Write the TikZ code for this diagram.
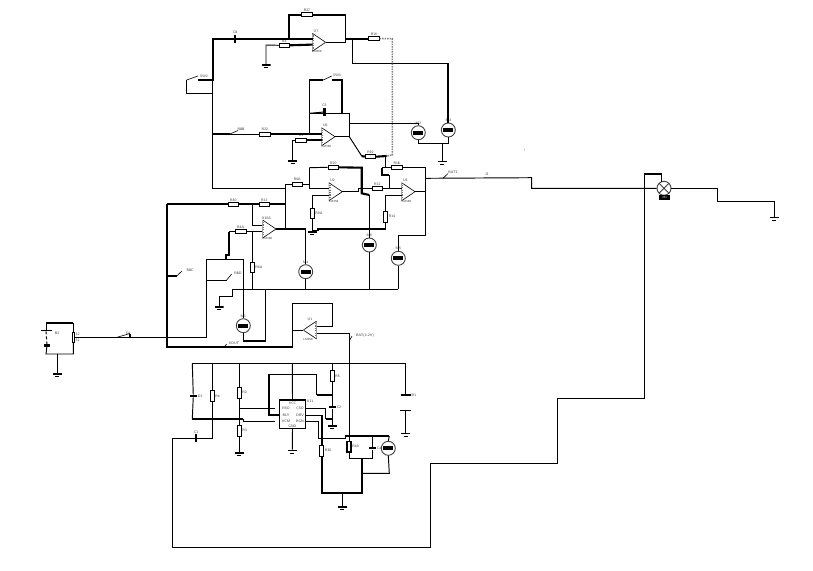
\documentclass[tikz,border=0pt]{standalone}
\tikzset{
    wire/.style={line width=0.95pt},
    bus/.style={line width=2.1pt},
    blade/.style={line width=0.6pt},
    lab/.style={font=\sffamily\fontsize{3.6}{4}\selectfont,inner sep=0.6pt,text=black!80},
    res/.style={draw,fill=white,line width=0.8pt,minimum width=10.5pt,minimum height=3.8pt,inner sep=0pt},
    vres/.style={draw,fill=white,line width=0.8pt,minimum width=3.8pt,minimum height=10.5pt,inner sep=0pt},
    capbar/.style={fill=black,minimum width=10pt,minimum height=2.2pt,inner sep=0pt},
    plate/.style={fill=black,minimum width=11pt,minimum height=1pt,inner sep=0pt},
    vcap/.style={fill=black,minimum width=2.5pt,minimum height=8pt,inner sep=0pt},
    opamp/.style={minimum width=13.4pt,minimum height=18pt,inner sep=0pt,outer sep=0pt,anchor=east,
        label={[lab,xshift=-3pt]above:#1},label={[lab,xshift=-2pt,yshift=1.5pt,font=\sffamily\fontsize{3}{3}\selectfont]below:LM358},path picture={
        \filldraw [fill=white,line width=0.6pt] (path picture bounding box.north west) -- (path picture bounding box.east) -- (path picture bounding box.south west) -- cycle;
        \draw [black!55,line width=1.4pt,dash pattern=on 1.2pt off 1.2pt] (path picture bounding box.north west) ++(1pt,-2pt) -- ++(0pt,-14pt);}},
    opampl/.style={minimum width=13.4pt,minimum height=18pt,inner sep=0pt,outer sep=0pt,anchor=west,
        label={[lab]above:#1},label={[lab,xshift=-2pt,yshift=1.5pt,font=\sffamily\fontsize{3}{3}\selectfont]below:LM358},path picture={
        \filldraw [fill=white,line width=0.6pt] (path picture bounding box.north east) -- (path picture bounding box.west) -- (path picture bounding box.south east) -- cycle;
        \draw [black!55,line width=1.4pt,dash pattern=on 1.2pt off 1.2pt] (path picture bounding box.north east) ++(-1pt,-2pt) -- ++(0pt,-14pt);}},
    meter/.style={circle,draw=black!75,fill=white,line width=0.9pt,minimum size=14pt,inner sep=0pt,path picture={\fill [black] (path picture bounding box.center) ++(-5pt,-2pt) rectangle ++(10pt,4pt);}},
    gnd/.style={anchor=north,minimum width=9pt,minimum height=4.2pt,inner sep=0pt,path picture={
        \fill (path picture bounding box.north west) rectangle ++(9pt,-1.5pt);
        \fill (path picture bounding box.south west) ++(2.5pt,0pt) rectangle ++(4pt,1.1pt);}},
}
\begin{document}
\begin{tikzpicture}[x=1pt,y=-1pt]
            \useasboundingbox (0,0) rectangle (813,570);
            \foreach \n/\x/\y in {
                sa/186.7/80, sb/198/76, sc/198/80, sd/212.7/80, se/186.7/93.3, sf/212.7/93.3, sg/212.7/38.7,
                ta/288.7/38.7, tb/288.7/14.7, tc/345.7/14.7, td/345.7/42.3, te/345.7/38.7, tf/352.7/38.7, tg/352.7/63.3, th/448.3/63.3,
                ti/312.7/38.7, tj/312.7/44.6, tk/266/45, tl/392.3/38.7, tm/392.3/155,
                ma/212.7/134, mb/230/134, mc/238/130.5, md/321.7/134, me/321.7/140, mf/292.7/140,
                mg/309.3/134, mh/309.3/113.3, mi/349.3/113.3, mj/349.3/136.7, mk/309.3/80, ml/323.3/80, mm/331.7/76, mn/331.7/80, mo/342/80, mp/342/113.3,
                mq/349.3/123.3, mr/418.3/123.3, ms/418.3/143.3, mt/448.3/143.3, mu/442.3/143.3, mv/361.7/156, mw/386.7/156, mx/385.7/156, my/385.7/167.7,
                na/382.3/167.7, nb/382.3/175, nc/389/175, nd/389/188.3, ne/402.3/188.3, nf/425.7/167.7, ng/425.7/235, nh/398.3/235, ni/398.3/289.3,
                nj/425.7/191.7, nk/358.3/191.7, nl/358.3/188.3, nm/309.3/167.7, nn/361.7/167.7, no/361.7/193.3, np/369.3/195, nq/369.3/289.3,
                nr/212.7/188.3, ns/285.7/188.3, nt/285.7/184, nu/309.3/184, nv/309.3/188.3, nw/329/188.3, nx/312.3/195, ny/329/195, nz/312.3/230.7,
                oa/318.3/230.7, ob/318.3/229, oc/385.7/229, od/385.7/195, oe/402.3/195, of/285.7/229,
                pa/425.7/178.3, pb/531.7/177.7, pc/531.7/188.3, pd/717.3/188.3, pe/717.3/201.7, pf/774.3/201.7, pg/448/173.5, ph/443/178.3,
                qa/644.3/174.3, qb/661.7/174.3, qc/661.7/181.5, qd/644.3/398, qe/557/398, qf/557/463, qg/430/463, qh/430/547, qi/172.7/547, qj/172.7/438.3, qk/212.3/438.3,
                ra/166.7/204.3, rb/285.7/204.3, rc/252.3/204.3, rd/252.3/225, re/261.7/225, rf/305.7/229, rg/305.7/289.3, rh/166.7/346.7, ri/292.7/346.7, rj/292.7/303.3, rk/332.7/303.3, rl/332.7/326, rm/316.7/326, rn/292.7/330,
                ua/166.7/276, ub/176.7/276, uc/182/271, ud/223.3/348, ue/226.7/344,
                va/229/231.7, vb/261.7/231.7, vc/229/255, vd/226/255, ve/226/259, vf/206.7/259, vg/243.3/259, vh/243.3/340.7, vi/265.7/340.7, vj/265.7/289.3,
                vk/206.7/337.3, vl/206.7/280, vm/226.7/280, vn/231.7/274, vo/252.3/231.7, vp/252.3/289.3, vq/219/296, vr/232.7/296, vs/232.7/289.3,
                wa/316.7/333.3, wb/349.3/333.3, wc/349.3/436, wd/352/336, we/349.3/341,
                xa/192.3/363.3, xb/405.7/363.3, xc/192.3/419, xd/243.3/419, xe/243.3/421, xf/275/421, xg/212.3/363.3, xh/239.3/363.3, xi/239.3/408.3, xj/275/408.3,
                ya/269/415, yb/279.3/415, yc/269/374.3, yd/316.7/374.3, ye/316.7/395, yf/332.3/395, yg/292.3/363.3, yh/332.3/363.3,
                yi/305.7/408.3, yj/325.7/408.3, yk/325.7/419, yl/332.3/419, ym/305.7/415, yn/321.7/415, yo/305.7/421, yp/318.3/421, yq/318.3/438.3, yr/345/438.3, ys/345/436, yt/389.3/436,
                za/321.7/493.3, zb/362.3/493.3, zc/362.3/458.3, zd/342.3/493.3, ze/349/436, zf/349/458.3, zg/372.3/458.3, zh/372.3/436, zi/389.3/473.3, zj/362.3/473.3,
                ba/46/323.3, bb/73.3/323.3, bc/73.3/331.5, bd/73.3/354, be/46/354, bf/57.3/354, bg/117/337.3, bh/130/333.5, bi/130/337.3, bj/166.7/337.3
            }{\coordinate (\n) at (\x,\y);}
            \node [opamp=U7] (u7) at (325.7,42.3) {};
            \node [opamp=U6] (u6) at (335,136.7) {};
            \node [opamp=U2] (u2) at (342.3,191.7) {};
            \node [opamp=U3] (u3) at (415,191.7) {};
            \node [opamp=U10A] (u10) at (276,229) {};
            \node [opampl=U1] (u1) at (303.3,330) {};
            \node [res,label={[lab]above:R27}] (r27) at (307,14.7) {};
            \node [res,label={[lab]above:R16}] (r16) at (374,38.7) {};
            \node [res,label={[lab]above:R3}] (r15) at (284.3,45.3) {};
            \node [res,label={[lab]above:R22}] (r22) at (264.7,134) {};
            \node [res,label={[lab]above:R1}] (r23) at (301,140) {};
            \node [res,label={[lab]above:R19}] (r17) at (370.5,156.7) {};
            \node [res,label={[lab]above:R18}] (r18) at (396.7,167.7) {};
            \node [res,label={[lab]above:R12}] (r12) at (377.3,188.3) {};
            \node [res,label={[lab]above:R10}] (r10) at (333.3,167.3) {};
            \node [res,label={[lab]above:R9A}] (r9) at (297.3,184) {};
            \node [res,label={[lab]above:R30}] (r5) at (233.3,204.3) {};
            \node [res,label={[lab]above:R12}] (r6) at (264.3,204.3) {};
            \node [res,label={[lab]above:R4A}] (r7) at (240.7,231.7) {};
            \node [vres,label={[lab]right:R9A}] (r11) at (312.3,213.3) {};
            \node [vres,label={[lab]right:R14}] (r14) at (385.7,216.7) {};
            \node [vres,label={[lab]right:R6A}] (r8) at (252.3,267.3) {};
            \node [meter,label={[lab]above:M2}] (m1) at (418.3,132.7) {};
            \node [meter,label={[lab]above:M3}] (m2) at (448.3,130) {};
            \node [meter,label={[lab]above:M5}] (m3) at (398.3,258.3) {};
            \node [meter,label={[lab]above:M6}] (m4) at (369.3,245) {};
            \node [meter,label={[lab]above:M4}] (m6) at (305.7,271.7) {};
            \node [meter,label={[lab]above:M1}] (m7) at (243.3,325.7) {};
            \node [meter] (m8) at (388.3,448.3) {};
            \node [circle,draw=black!75,fill=white,line width=0.9pt,minimum size=14pt,inner sep=0pt,path picture={\draw (path picture bounding box.north west) -- (path picture bounding box.south east) (path picture bounding box.north east) -- (path picture bounding box.south west);}] (m5) at (664,188.3) {};
            \node [fill=black,minimum width=10.5pt,minimum height=4.5pt,inner sep=0pt,text=white,font=\sffamily\fontsize{3}{3}\selectfont] (m5bar) at (664.7,197.5) {M1};
            \node [vcap,label={[lab]above:C8}] (c8) at (235,38.7) {};
            \node [vcap,label={[lab]above:C5}] (c5) at (324.3,112) {};
            \node [lab] (sw1lab) at (204,76) {SW2};
            \node [lab] (sw2lab) at (337,75.5) {SW3};
            \node [lab] (sw3lab) at (241,129.5) {R8B};
            \node [lab] (sw4lab) at (453,172.5) {BAT1};
            \node [lab] (sw5lab) at (487,174.3) {J1};
            \node [lab] (dotlab) at (524.5,150.5) {i};
            \node [lab] (sw6lab) at (190,270.5) {R8C};
            \node [lab] (sw7lab) at (238,273) {R8D};
            \node [lab] (sw8lab) at (234,343.5) {VOUT};
            \node [lab] (sw9lab) at (365,336) {BAT(4.2V)};
            \node [gnd] (g1) at (266,64) {};
            \node [gnd] (g2) at (292.7,160) {};
            \node [gnd] (g3) at (442.3,160.5) {};
            \node [gnd] (g4) at (312.3,231) {};
            \node [gnd] (g5) at (219,306) {};
            \node [gnd] (g6) at (57.3,373) {};
            \node [gnd] (g7) at (774.3,216.5) {};
            \node [gnd] (g8) at (239.3,452) {};
            \node [gnd] (g9) at (292.3,449.5) {};
            \node [gnd] (g10) at (332.3,425) {};
            \node [gnd] (g11) at (405.7,432.5) {};
            \node [gnd] (g12) at (342.3,506) {};
            \node [vres,label={[lab]right:R4}] (r31) at (212.3,396) {};
            \node [vres,label={[lab]right:R2}] (r32) at (239.3,392.7) {};
            \node [vres,label={[lab]right:R3}] (r33) at (239.3,430.7) {};
            \node [vres,label={[lab]right:R5}] (r34) at (332.3,376) {};
            \node [vres,label={[lab]right:R30}] (r35) at (321.7,450.7) {};
            \node [vres,line width=1.4pt,label={[lab]right:R40}] (r36) at (349,446.7) {};
            \node [capbar,minimum width=7pt,label={[lab]right:D1}] (c31) at (193.3,396) {};
            \node [capbar,minimum width=7pt,label={[lab]right:C2}] (c32) at (332.3,407.3) {};
            \node [capbar,minimum width=7pt,label={[lab]right:C4}] (c33) at (372.3,448.3) {};
            \node [vcap,label={[lab]above:C1}] (c34) at (196,438.3) {};
            \node [capbar,label={[lab]right:B1}] (b1a) at (405.7,395) {};
            \node [plate] (b1b) at (405.7,410) {};
            \node [plate] (b2a) at (46,330.7) {};
            \node [capbar,minimum width=6pt] (b2b) at (47,345.5) {};
            \node [vres,minimum width=2.4pt,minimum height=10.6pt,label={[lab]30:J2},label={[lab]-30:S1}] (j2) at (73.3,337.3) {};
            \node [lab] (b2lab) at (57,333) {B2};
            \node [lab] (j1lab) at (128,333.5) {S4};
            \node [draw,fill=white,line width=0.8pt,minimum width=26.4pt,minimum height=28pt,inner sep=0pt,label={[lab]40:U11}] (ic1) at (292.5,414.3) {};
            \draw [bus] (ic1.north west) -- (ic1.north east);
            \node [lab] (ic1a) at (286,408.3) {RSO};
            \node [lab] (ic1b) at (286,415) {BLY};
            \node [lab] (ic1c) at (286,421) {VCM};
            \node [lab] (ic1d) at (300,408.3) {CSO};
            \node [lab] (ic1e) at (300,415) {DRV};
            \node [lab] (ic1f) at (300,421) {BGN};
            \node [lab] (ic1g) at (292.5,403.5) {VCC};
            \node [lab] (ic1h) at (292.5,426) {GND};
            \draw [wire] (sa) -- (se) -- (sf);
            \draw [bus] (sc) -- (sd) -- (sg) -- (c8) -- (ti);
            \draw [blade] (sa) -- (sb);
            \draw [bus] (ta) -- (tb) -- (r27.west);
            \draw [bus] (r27.east) -- (tc);
            \draw [wire] (tc) -- (td) -- (u7.east);
            \draw [bus] (te) -- (r16.west);
            \draw [wire] (tf) -- (tg) -- (th);
            \draw [bus] (th) -- (m2.north);
            \draw [bus] (r15.east) -- (tj);
            \draw [wire] (g1) -- (tk) -- (r15.west);
            \draw [black!50,line width=1.5pt,densely dotted] (r16.east) -- (tl) -- (tm) -- (mw);
            \draw [wire] (sd) -- (sf) -- (nr) -- (ns) -- (nt) -- (r9.west);
            \draw [bus] (ma) -- (mb);
            \draw [blade] (mb) -- (mc);
            \draw [wire] (mb) -- (r22.west);
            \draw [bus] (r22.east) -- (md);
            \draw [wire] (g2) -- (mf) -- (r23.west);
            \draw [bus] (r23.east) -- (me);
            \draw [wire] (mg) -- (mh) -- (mi) -- (mj) -- (u6.east);
            \draw [wire] (mh) -- (mk);
            \draw [bus] (mk) -- (ml);
            \draw [blade] (ml) -- (mm);
            \draw [bus] (mn) -- (mo) -- (mp);
            \draw [wire] (c5) -- (mh);
            \draw [wire] (mq) -- (mr) -- (m1.north);
            \draw [wire] (m1.south) -- (ms) -- (mt) -- (m2.south);
            \draw [wire] (mu) -- (g3);
            \draw [wire] (mj) -- (mv);
            \draw [bus] (mv) -- (r17.west);
            \draw [bus] (r17.east) -- (mw);
            \draw [wire] (mx) -- (my);
            \draw [wire] (na) -- (r18.west);
            \draw [bus] (na) -- (nb) -- (nc);
            \draw [wire] (nc) -- (nd);
            \draw [wire] (r18.east) -- (nf) -- (ng) -- (nh) -- (m3.north);
            \draw [wire] (m3.south) -- (ni);
            \draw [wire] (u3.east) -- (nj);
            \draw [wire] (r12.east) -- (ne);
            \draw [wire] (u2.east) -- (nk) -- (nl) -- (r12.west);
            \draw [wire] (nm) -- (r10.west);
            \draw [bus] (r10.east) -- (nn) -- (no) -- (np);
            \draw [wire] (np) -- (m4.north);
            \draw [wire] (m4.south) -- (nq);
            \draw [wire] (r9.east) -- (nu);
            \draw [wire] (nm) -- (nv) -- (nw);
            \draw [wire] (nx) -- (ny);
            \draw [wire] (nx) -- (r11.north);
            \draw [wire] (r11.south) -- (g4);
            \draw [wire] (nz) -- (oa);
            \draw [bus] (oa) -- (ob) -- (oc);
            \draw [wire] (oc) -- (r14.south);
            \draw [wire] (r14.north) -- (od) -- (oe);
            \draw [wire] (nt) -- (of);
            \draw [wire] (pa) -- (pb) -- (pc) -- (m5);
            \draw [blade] (ph) -- (pg);
            \draw [wire] (m5) -- (pd) -- (pe) -- (pf) -- (g7);
            \draw [bus] (qa) -- (qb);
            \draw [wire] (qb) -- (qc);
            \draw [wire] (qa) -- (qd) -- (qe) -- (qf) -- (qg) -- (qh) -- (qi) -- (qj) -- (c34) -- (qk) -- (r31.south);
            \draw [bus] (ra) -- (r5.west);
            \draw [bus] (r5.east) -- (r6.west);
            \draw [bus] (r6.east) -- (rb);
            \draw [wire] (rc) -- (rd) -- (re);
            \draw [bus] (u10.east) -- (rf);
            \draw [wire] (rf) -- (m6.north);
            \draw [wire] (m6.south) -- (rg);
            \draw [bus] (ra) -- (rh) -- (ri);
            \draw [wire] (ri) -- (rj) -- (rk) -- (rl) -- (rm);
            \draw [wire] (rn) -- (u1.west);
            \draw [bus] (ua) -- (ub);
            \draw [blade] (ub) -- (uc);
            \draw [blade] (ud) -- (ue);
            \draw [wire] (va) -- (r7.west);
            \draw [wire] (r7.east) -- (vb);
            \draw [bus] (va) -- (vc) -- (vd) -- (ve);
            \draw [wire] (vf) -- (vg) -- (m7.north);
            \draw [wire] (m7.south) -- (vh);
            \draw [bus] (vh) -- (vi);
            \draw [wire] (vi) -- (vj);
            \draw [wire] (vf) -- (vk) -- (j2.east);
            \draw [wire] (vl) -- (vm);
            \draw [blade] (vm) -- (vn);
            \draw [wire] (vo) -- (r8.north);
            \draw [wire] (r8.south) -- (vp);
            \draw [wire] (g5) -- (vq) -- (vr) -- (vs) -- (ni);
            \draw [wire] (wa) -- (wb) -- (wc);
            \draw [blade] (we) -- (wd);
            \draw [wire] (xa) -- (xb);
            \draw [wire] (xa) -- (c31) -- (xc);
            \draw [bus] (xc) -- (xd);
            \draw [wire] (xd) -- (xe) -- (xf);
            \draw [wire] (xg) -- (r31.north);
            \draw [wire] (xh) -- (r32.north);
            \draw [wire] (r32.south) -- (xi) -- (r33.north);
            \draw [wire] (r33.south) -- (g8);
            \draw [wire] (xi) -- (xj);
            \draw [bus] (yc) -- (ya) -- (yb);
            \draw [wire] (yc) -- (yd) -- (ye);
            \draw [bus] (ye) -- (yf);
            \draw [wire] (yg) -- (ic1.north);
            \draw [wire] (ic1.south) -- (g9);
            \draw [wire] (yh) -- (r34.north);
            \draw [wire] (r34.south) -- (c32) -- (g10);
            \draw [wire] (yi) -- (yj) -- (yk);
            \draw [bus] (yk) -- (yl);
            \draw [wire] (ym) -- (yn);
            \draw [bus] (yn) -- (r35.north);
            \draw [bus] (r35.south) -- (za) -- (zb) -- (zc);
            \draw [wire] (zd) -- (g12);
            \draw [wire] (yo) -- (yp) -- (yq) -- (yr) -- (ys);
            \draw [bus] (ys) -- (yt);
            \draw [wire] (yt) -- (m8.north);
            \draw [wire] (m8.south) -- (zi) -- (zj);
            \draw [wire] (ze) -- (r36.north);
            \draw [wire] (r36.south) -- (zf) -- (zg) -- (c33) -- (zh);
            \draw [wire] (xb) -- (b1a);
            \draw [wire] (b1b) -- (g11);
            \draw [bus] (ba) -- (bb);
            \draw [wire] (bb) -- (j2.north);
            \draw [wire] (j2.south) -- (bd) -- (be) -- (b2b);
            \draw [wire,densely dashed] (b2a) -- (b2b);
            \draw [wire] (b2a) -- (ba);
            \draw [wire] (bf) -- (g6);
            \draw [blade] (bg) -- (bh);
            \draw [bus] (bi) -- (bh);
\end{tikzpicture}
\end{document}
